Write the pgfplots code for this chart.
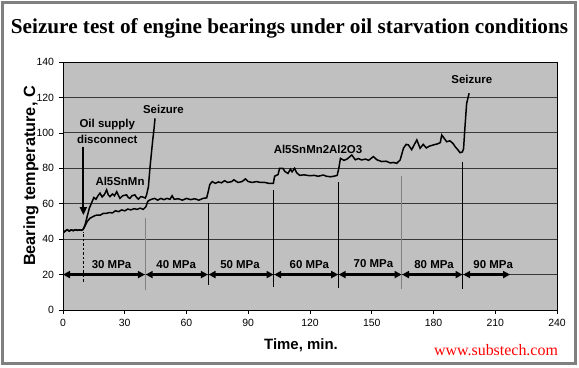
\documentclass[border=0pt]{standalone}
\usepackage{fontspec}
\setmainfont{Liberation Sans}
\newfontfamily\timesfont{Liberation Serif}
\usepackage{pgfplots}
\pgfplotsset{compat=1.18}
\usetikzlibrary{arrows.meta}
\definecolor{bggray}{HTML}{C0C0C0}
\definecolor{framegray}{HTML}{808080}
\begin{document}
\begin{tikzpicture}
\useasboundingbox (0,0) rectangle (579bp,368bp);
\fill[white] (0,0) rectangle (579bp,368bp);
\draw[framegray, line width=3bp] (2.5bp,4bp) rectangle (575.5bp,365bp);
\node[anchor=base] at (289.5bp,334bp) {\fontsize{21.3}{25}\selectfont\timesfont\bfseries Seizure test of engine bearings under oil starvation conditions};
\node[anchor=base, text=red] at (496bp,12.5bp) {\fontsize{16}{18}\selectfont\timesfont www.substech.com};
\node[anchor=base] at (301bp,18.5bp) {\fontsize{15}{18}\selectfont\bfseries Time, min.};
\node[anchor=base, rotate=90] at (35bp,192bp) {\fontsize{16.3}{18}\selectfont\bfseries Bearing temperature, C};
\begin{axis}[
  at={(63bp,58bp)}, anchor=south west,
  scale only axis, width=494bp, height=248bp,
  xmin=0, xmax=240, ymin=0, ymax=140,
  xtick={0,30,...,240}, ytick={0,20,...,140},
  axis background/.style={fill=bggray},
  ymajorgrids, grid style={black!78, line width=0.8pt},
  tick pos=left, tick align=outside, major tick length=4bp,
  tick style={black, line width=0.7pt},
  axis line style={black, line width=0.9pt},
  /pgf/number format/assume math mode=true,
  ticklabel style={font=\fontsize{10.5}{12}\selectfont},
  xticklabel style={yshift=-2bp},
  yticklabel style={xshift=-1.5bp},
]
% pressure step dividers
\draw[framegray, line width=1.1pt] (axis cs:40,11.3) -- (axis cs:40,51.9);
\draw[black, line width=0.6pt] (axis cs:70.5,14.1) -- (axis cs:70.5,60.4);
\draw[black, line width=0.6pt] (axis cs:102.4,13.2) -- (axis cs:102.4,68);
\draw[black, line width=0.6pt] (axis cs:133.8,12.5) -- (axis cs:133.8,72.5);
\draw[framegray, line width=1.1pt] (axis cs:164.6,12.1) -- (axis cs:164.6,75.7);
\draw[black, line width=0.6pt] (axis cs:194.2,12.1) -- (axis cs:194.2,83.8);
\draw[black, line width=1pt, dash pattern=on 2.5bp off 2bp] (axis cs:10,16) -- (axis cs:10,44);
% pressure arrows
\begin{scope}[line width=2.4bp, {Triangle[length=7bp,width=7bp]}-{Triangle[length=7bp,width=7bp]}]
\draw (axis cs:0,20) -- (axis cs:39.8,20);
\draw (axis cs:40.2,20) -- (axis cs:70.4,20);
\draw (axis cs:70.7,20) -- (axis cs:102.3,20);
\draw (axis cs:102.6,20) -- (axis cs:133.7,20);
\draw (axis cs:133.9,20) -- (axis cs:164.5,20);
\draw (axis cs:164.7,20) -- (axis cs:194.1,20);
\draw (axis cs:194.4,20) -- (axis cs:217.2,20);
\end{scope}
\begin{scope}[font=\fontsize{11.5}{13}\selectfont\bfseries]
\node at (axis cs:23.6,25.8) {30 MPa};
\node at (axis cs:55,25.8) {40 MPa};
\node at (axis cs:86,25.8) {50 MPa};
\node at (axis cs:119.7,25.8) {60 MPa};
\node at (axis cs:150.8,26) {70 MPa};
\node at (axis cs:180.3,25.8) {80 MPa};
\node at (axis cs:209,25.8) {90 MPa};
\node at (axis cs:21.5,104.5) {Oil supply};
\node at (axis cs:21.5,96.3) {disconnect};
\node at (axis cs:48.8,113) {Seizure};
\node at (axis cs:27.7,72.5) {Al5SnMn};
\node at (axis cs:123.9,90.9) {Al5SnMn2Al2O3};
\node at (axis cs:198.6,130.4) {Seizure};
\end{scope}
\draw[line width=2bp, -{Triangle[length=8bp,width=7bp]}] (axis cs:9.9,92.2) -- (axis cs:9.9,53.6);
% Al5SnMn
\addplot[black, line width=1.5bp, no markers] coordinates {
(0,43.5) (1,44.5) (2,45.3) (3,44.6) (4,45.2) (5,44.8) (6,45.3) (7,45) (8,45.2) (9,45) (9.8,45.5)
(10.7,48) (11.8,53) (12.8,57.5) (13.9,60.5) (15,63.5) (16,62.5) (17,64.5) (18,66) (19,63.8) (20,65)
(21.2,67.8) (22,65) (22.8,64) (24,65.5) (25,64.5) (26.1,66.8) (27,64.5) (27.7,63) (29,64.5) (30.9,65)
(31.7,63.5) (32.5,63) (33.5,64.5) (34.9,65) (35.8,63.5) (36.6,62.6) (37.8,64) (39,63.7) (40,63.2) (40.6,65)
(41.5,69.6) (42.3,80.9) (43,89) (43.6,96) (44.2,102) (44.7,108.2)
};
% Al5SnMn2Al2O3
\addplot[black, line width=1.5bp, no markers] coordinates {
(0,43.5) (1,44.5) (2,45.3) (3,44.6) (4,45.2) (5,44.8) (6,45.3) (7,45) (8,45.2) (9,45) (9.8,45.5)
(10.7,47.5) (11.8,50) (13.1,51.8) (15,53) (16.4,53.6) (18,53.5) (19.5,54.5) (21.2,54.6) (22.5,55)
(24,54.8) (25.5,56) (27,55.5) (28.5,56.5) (30,56) (31.5,57) (33,56.5) (34.5,57.2) (36,56.8)
(37.5,57.5) (39,56.8) (40.3,58.3) (41,60.8) (41.5,61.7) (43,62.5) (44.5,63) (46,62) (47.5,63)
(49,62.3) (50.5,63) (52,62.5) (53,64.5) (54,62.5) (56,62.8) (58,62) (60,63) (62,62.3) (64,62.8)
(66,62) (68,63) (69.8,63.3) (70.6,67) (71.3,70.8) (72.5,72.5) (74,71.5) (75.5,72.3) (77,71.8)
(78.5,73) (80,72) (82,72.5) (83,73.5) (85,72) (87,72.5) (88.6,74) (90,72.5) (92,72) (94,72.5)
(96,72) (98,72) (100,71.5) (102.2,71.5) (102.8,75.5) (104.5,76.5) (105.2,79.9) (106.8,80)
(107.8,78.2) (109.3,77.1) (110.5,79.5) (111.3,78) (112.5,80) (113.5,77.5) (115,76) (117,76.3)
(120,75.8) (122,76) (124,75.5) (126.5,76.2) (128,75.5) (130,75.2) (131.5,75.5) (133.2,76)
(134,80) (134.8,85.6) (136.5,84.5) (138,85.2) (140.3,87.5) (142,84.8) (143.5,85.5) (145,84.7)
(147,85.2) (148.5,84.5) (150.8,86.6) (152.5,84.8) (154.8,83.8) (157,84) (159,83) (160.5,83.3)
(162.1,82.8) (163.8,84.7) (165.4,91.3) (166.7,93.5) (167.8,93.2) (169.4,90.5) (170.5,93)
(171.9,96) (173.5,91.3) (175,93.5) (176.5,91.5) (178,92.5) (180,93.2) (182,93.8) (183.3,94.5)
(184,98.8) (185,97.2) (186.4,95) (188,95.5) (189.5,94) (190.5,92.2) (191.8,90.5) (192.9,88.8)
(194,89.2) (194.6,91) (195.3,103.5) (196.1,116.6) (197.3,122.4)
};
\end{axis}
\end{tikzpicture}
\end{document}
